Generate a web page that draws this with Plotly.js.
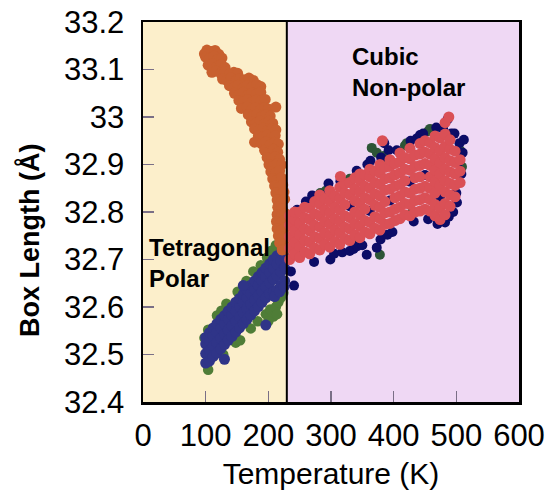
<!DOCTYPE html>
<html>
<head>
<meta charset="utf-8">
<script src="https://cdn.plot.ly/plotly-3.0.1.min.js"></script>
<style>html,body{margin:0;padding:0;background:#fff}#chart{width:555px;height:498px}</style>
</head>
<body>
<div id="chart"></div>
<script>
// ---- data (Temperature K, Box Length Å) ----
const xTicks = [0, 100, 200, 300, 400, 500, 600];
const yTicks = [32.4, 32.5, 32.6, 32.7, 32.8, 32.9, 33.0, 33.1, 33.2];
const yTickText = ["32.4", "32.5", "32.6", "32.7", "32.8", "32.9", "33", "33.1", "33.2"];
const transitionT = 229.5;

const orangePts = [
 [102,33.141],[109,33.138],[115,33.14],[98,33.133],[121,33.132],
 [100,33.126],[106,33.123],[113,33.128],[119,33.121],[126,33.124],
 [104,33.109],[111,33.112],[118,33.106],[125,33.111],[131,33.104],
 [110,33.094],[117,33.097],[124,33.092],[131,33.096],[138,33.09],[145,33.094],[151,33.092],
 [127,33.08],[134,33.077],[141,33.082],[148,33.076],[155,33.081],[162,33.078],[169,33.082],[176,33.077],
 [138,33.066],[145,33.062],[152,33.067],[159,33.061],[166,33.066],[174,33.063],[182,33.068],[188,33.064],
 [146,33.05],[153,33.047],[160,33.052],[167,33.046],[174,33.051],[181,33.048],[188,33.052],
 [153,33.035],[160,33.032],[167,33.037],[174,33.031],[181,33.036],[188,33.033],[195,33.037],
 [157,33.018],[166,33.021],[173,33.016],[180,33.02],[187,33.015],[194,33.02],[200,33.017],[212,33.021],
 [168,33.005],[175,33.001],[182,33.006],[189,33.0],[196,33.005],[203,33.002],
 [173,32.99],[180,32.987],[187,32.992],[194,32.986],[201,32.991],[207,32.987],
 [178,32.975],[185,32.972],[192,32.977],[199,32.971],[206,32.976],[212,32.973],
 [184,32.96],[191,32.957],[198,32.962],[205,32.956],[211,32.961],
 [178,32.947],[189,32.944],[196,32.948],[203,32.942],[210,32.947],[216,32.943],
 [194,32.93],[201,32.927],[208,32.932],[215,32.926],
 [198,32.915],[205,32.912],[212,32.917],[218,32.911],
 [201,32.9],[208,32.897],[215,32.902],[221,32.899],
 [204,32.885],[211,32.882],[218,32.887],
 [207,32.87],[214,32.867],[221,32.872],
 [210,32.855],[217,32.852],[223,32.857],
 [212,32.84],[219,32.837],[225,32.842],
 [214,32.825],[221,32.822],[226,32.827],
 [215,32.81],[222,32.807],
 [214,32.795],[221,32.792],[227,32.797],
 [213,32.78],[220,32.777],[226,32.782],
 [214,32.765],[221,32.762],[227,32.767],
 [216,32.75],[223,32.747],
 [218,32.735],[225,32.732],
 [222,32.72],[227,32.722]
];

const greenLowPts = [
 [98,32.535],[104,32.552],[118,32.582],[125,32.592],[133,32.607],[151,32.632],[165,32.655],
 [176,32.675],[188,32.688],[198,32.704],[204,32.718],[212,32.73],[221,32.742],
 [104,32.468],[128,32.5],[148,32.525],[155,32.53],[172,32.555],[183,32.57],
 [196,32.585],[203,32.595],[208,32.58],[212,32.6],[216,32.61],[220,32.62],[224,32.63],
 [200,32.57],[214,32.585]
];

const blueLowPts = [
 [100,32.482],[100,32.502],[100,32.522],[100,32.536],
 [106,32.486],[106,32.508],[106,32.53],[106,32.546],
 [112,32.496],[112,32.518],[112,32.54],[112,32.556],
 [118,32.503],[118,32.525],[118,32.547],[118,32.565],
 [124,32.512],[124,32.534],[124,32.556],[124,32.574],
 [130,32.521],[130,32.543],[130,32.565],[130,32.582],
 [136,32.53],[136,32.552],[136,32.574],[136,32.592],
 [142,32.538],[142,32.561],[142,32.583],[142,32.6],
 [148,32.547],[148,32.57],[148,32.592],[148,32.61],
 [154,32.556],[154,32.579],[154,32.601],[154,32.618],
 [160,32.565],[160,32.588],[160,32.61],[160,32.627],
 [166,32.574],[166,32.597],[166,32.619],[166,32.636],
 [172,32.583],[172,32.606],[172,32.628],[172,32.646],
 [178,32.592],[178,32.615],[178,32.637],[178,32.655],
 [184,32.601],[184,32.624],[184,32.646],[184,32.664],
 [190,32.61],[190,32.633],[190,32.655],[190,32.673],
 [196,32.619],[196,32.642],[196,32.664],[196,32.682],
 [202,32.628],[202,32.651],[202,32.673],[202,32.691],
 [208,32.632],[208,32.658],[208,32.682],[208,32.7],
 [214,32.636],[214,32.666],[214,32.69],[214,32.708],
 [220,32.645],[220,32.674],[220,32.698],[220,32.714],
 [226,32.655],[226,32.682],[226,32.704],[226,32.72],
 [210,32.622],[218,32.632],[225,32.642],
 [130,32.49],[160,32.645],[196,32.562]
];

const greenHighPts = [
 [252,32.72],[265,32.822],[283,32.84],[292,32.845],[342,32.745],[365,32.935],[373,32.925],[378,32.71],
 [384,32.918],[389,32.912],[418,32.94],[421,32.945],[430,32.8],[455,32.97],[458,32.975],[506,32.93],
 [509,32.895],[330,32.87],[470,32.785]
];

const navyHighPts = [
 [241,32.645],[236,32.675],[246,32.805],[260,32.822],[273,32.695],[270,32.835],
 [288,32.835],[299,32.7],[296,32.86],[305,32.712],[315,32.865],[318,32.715],[330,32.812],
 [330,32.718],[336,32.722],[341,32.887],[342,32.728],[350,32.73],[357,32.71],[358,32.9],[362,32.802],
 [363,32.908],[373,32.725],[379,32.742],[380,32.915],[385,32.945],[390,32.752],[394,32.824],[392,32.93],
 [398,32.758],[405,32.93],[426,32.864],[432,32.78],[427,32.95],[437,32.955],[442,32.962],[450,32.878],
 [447,32.965],[455,32.785],[474,32.832],[470,32.775],[479,32.975],[482,32.778],[488,32.79],[495,32.8],
 [497,32.965],[500,32.84],[503,32.905],[505,32.945],[508,32.88],[510,32.925],[512,32.952],[492,32.965],
 [468,32.978],[501,32.82],[486,32.995]
];

const redPts = [
 [234,32.7],[234,32.724],[234,32.748],[234,32.772],[234,32.792],
 [242,32.712],[242,32.736],[242,32.76],[242,32.784],[242,32.8],
 [250,32.704],[250,32.728],[250,32.752],[250,32.776],[250,32.8],
 [258,32.716],[258,32.74],[258,32.764],[258,32.788],[258,32.81],
 [266,32.712],[266,32.736],[266,32.76],[266,32.784],[266,32.808],
 [274,32.724],[274,32.748],[274,32.772],[274,32.796],[274,32.822],
 [282,32.72],[282,32.744],[282,32.768],[282,32.792],[282,32.816],[282,32.836],
 [290,32.732],[290,32.756],[290,32.78],[290,32.804],[290,32.828],
 [298,32.726],[298,32.75],[298,32.774],[298,32.798],[298,32.822],[298,32.845],
 [306,32.738],[306,32.762],[306,32.786],[306,32.81],[306,32.834],
 [314,32.732],[314,32.756],[314,32.78],[314,32.804],[314,32.828],[314,32.852],
 [322,32.744],[322,32.768],[322,32.792],[322,32.816],[322,32.84],[322,32.86],
 [330,32.74],[330,32.764],[330,32.788],[330,32.836],[330,32.862],
 [338,32.752],[338,32.776],[338,32.8],[338,32.824],[338,32.848],[338,32.872],
 [346,32.746],[346,32.77],[346,32.794],[346,32.818],[346,32.842],[346,32.866],[346,32.88],
 [354,32.758],[354,32.782],[354,32.806],[354,32.83],[354,32.854],[354,32.878],
 [362,32.754],[362,32.778],[362,32.826],[362,32.85],[362,32.874],[362,32.89],
 [370,32.766],[370,32.79],[370,32.814],[370,32.838],[370,32.862],[370,32.886],
 [378,32.762],[378,32.786],[378,32.81],[378,32.834],[378,32.858],[378,32.882],[378,32.9],
 [386,32.774],[386,32.798],[386,32.822],[386,32.846],[386,32.87],[386,32.894],
 [394,32.776],[394,32.8],[394,32.848],[394,32.872],[394,32.896],[394,32.91],
 [402,32.782],[402,32.806],[402,32.83],[402,32.854],[402,32.878],[402,32.902],
 [410,32.786],[410,32.81],[410,32.834],[410,32.858],[410,32.882],[410,32.906],[410,32.924],
 [418,32.794],[418,32.818],[418,32.842],[418,32.866],[418,32.89],[418,32.914],
 [426,32.792],[426,32.816],[426,32.84],[426,32.888],[426,32.912],[426,32.934],
 [434,32.8],[434,32.824],[434,32.848],[434,32.872],[434,32.896],[434,32.92],
 [442,32.802],[442,32.826],[442,32.85],[442,32.874],[442,32.898],[442,32.922],[442,32.944],
 [450,32.806],[450,32.83],[450,32.854],[450,32.902],[450,32.926],[450,32.95],
 [458,32.802],[458,32.826],[458,32.85],[458,32.874],[458,32.898],[458,32.922],[458,32.946],
 [466,32.792],[466,32.816],[466,32.84],[466,32.864],[466,32.888],[466,32.912],[466,32.936],[466,32.96],
 [474,32.784],[474,32.808],[474,32.856],[474,32.88],[474,32.904],[474,32.928],[474,32.956],
 [482,32.794],[482,32.818],[482,32.842],[482,32.866],[482,32.89],[482,32.914],[482,32.938],[482,32.964],[482,32.988],
 [490,32.812],[490,32.836],[490,32.86],[490,32.884],[490,32.908],[490,32.932],[490,32.952],
 [498,32.832],[498,32.856],[498,32.88],[498,32.904],[498,32.928],
 [506,32.862],[506,32.886],[506,32.91],
 [315,32.875],[382,32.95],[488,33.0]
];

// ---- styles ----
const FONT = "Liberation Sans, Arial, Helvetica, sans-serif";
function tr(pts, color, size) {
  return {
    type: 'scatter', mode: 'markers',
    x: pts.map(p => p[0]), y: pts.map(p => p[1]),
    marker: {color: color, size: size, line: {width: 0}},
    hoverinfo: 'skip', showlegend: false
  };
}
const data = [
  tr(greenLowPts, '#4f7d37', 10.5),
  tr(blueLowPts, '#2f3488', 11),
  tr(orangePts, '#c8602f', 11),
  tr(greenHighPts, '#2d5537', 10),
  tr(navyHighPts, '#0c0c66', 10),
  tr(redPts, '#da5056', 11)
];

const tickStyle = {ticks: 'inside', ticklen: 11, tickwidth: 1.5, tickcolor: '#7a6f86',
  showline: true, linecolor: '#000', linewidth: 2.5, mirror: true, showgrid: false, zeroline: false,
  tickfont: {family: FONT, size: 31, color: '#000'}};

const layout = {
  width: 555, height: 498,
  margin: {l: 143, r: 36, t: 22, b: 96},
  paper_bgcolor: '#fff', plot_bgcolor: '#efd8f4',
  xaxis: Object.assign({}, tickStyle, {
    range: [0, 600], tickvals: xTicks, ticktext: xTicks.map(String),
    ticklabelstandoff: 4,
    title: {text: 'Temperature (K)', font: {family: FONT, size: 30, color: '#000'}, standoff: 12}
  }),
  yaxis: Object.assign({}, tickStyle, {
    range: [32.4, 33.2], tickvals: yTicks, ticktext: yTickText,
    ticklabelstandoff: 10
  }),
  shapes: [
    {type: 'rect', xref: 'x', yref: 'paper', x0: 0, x1: transitionT, y0: 0, y1: 1,
     fillcolor: '#fcefcb', line: {width: 0}, layer: 'below'},
    {type: 'rect', xref: 'x', yref: 'paper', x0: transitionT, x1: 600, y0: 0, y1: 1,
     fillcolor: '#efd8f4', line: {width: 0}, layer: 'below'},
    {type: 'line', xref: 'x', yref: 'paper', x0: transitionT, x1: transitionT, y0: 0, y1: 1,
     line: {color: '#000', width: 2}}
  ],
  annotations: [
    {text: '<b>Box Length (Å)</b>', xref: 'paper', yref: 'paper', x: -0.3, y: 0.424,
     xanchor: 'center', yanchor: 'middle', textangle: -90, showarrow: false,
     font: {family: FONT, size: 27, color: '#000'}},
    {text: '<b>Cubic<br>Non-polar</b>', x: 331, y: 33.16, xref: 'x', yref: 'y',
     xanchor: 'left', yanchor: 'top', align: 'left', showarrow: false,
     font: {family: FONT, size: 24, color: '#000'}},
    {text: '<b>Tetragonal<br>Polar</b>', x: 7, y: 32.757, xref: 'x', yref: 'y',
     xanchor: 'left', yanchor: 'top', align: 'left', showarrow: false,
     font: {family: FONT, size: 24, color: '#000'}}
  ]
};

Plotly.newPlot('chart', data, layout, {displayModeBar: false, staticPlot: true});
</script>
</body>
</html>
